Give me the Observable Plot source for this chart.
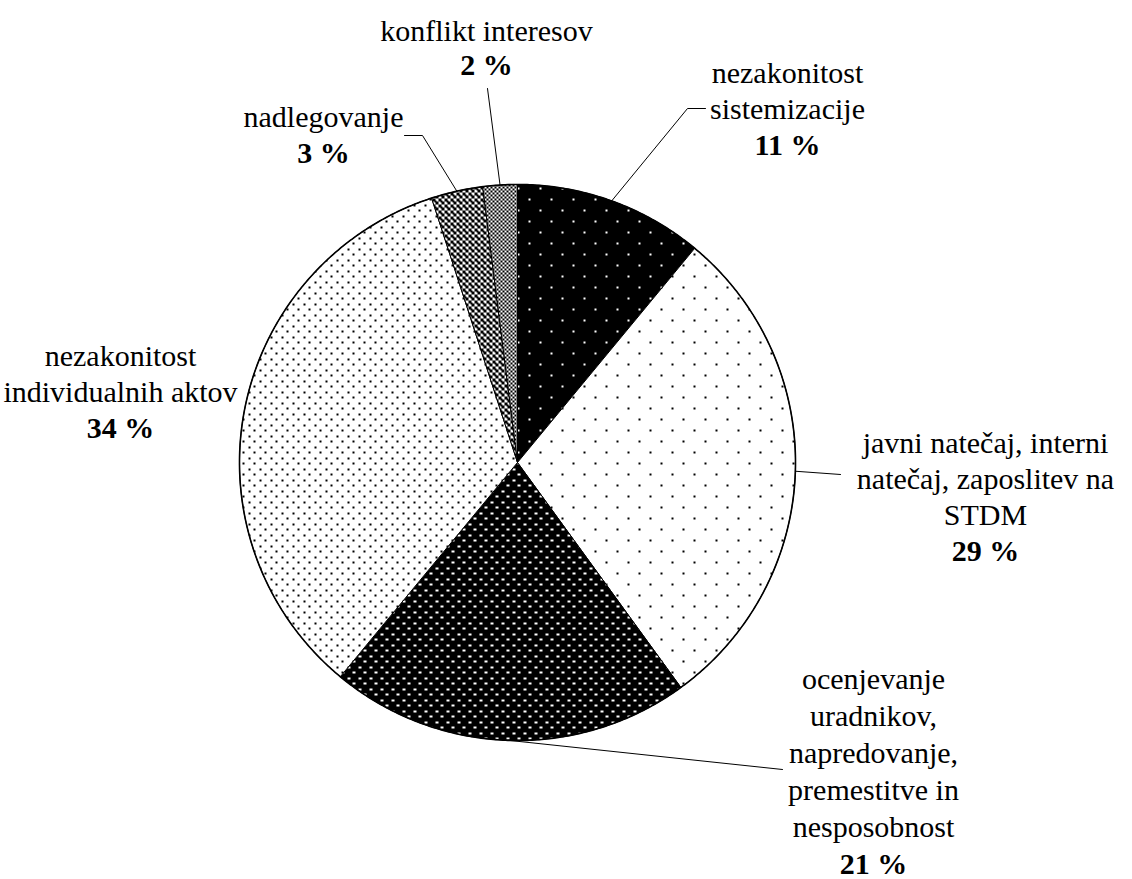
<!DOCTYPE html>
<html>
<head>
<meta charset="utf-8">
<script src="https://cdn.jsdelivr.net/npm/d3@7"></script>
<script src="https://cdn.jsdelivr.net/npm/@observablehq/plot@0.6"></script>
<style>
  html, body { margin: 0; padding: 0; background: #fff; }
  #chart svg { display: block; }
</style>
</head>
<body>
<div id="chart"></div>
<script>
// ---------- data ----------
const categories = [
  "nezakonitost sistemizacije",
  "javni natečaj, interni natečaj, zaposlitev na STDM",
  "ocenjevanje uradnikov, napredovanje, premestitve in nesposobnost",
  "nezakonitost individualnih aktov",
  "nadlegovanje",
  "konflikt interesov"
];
const values = [11, 29, 21, 34, 3, 2];
const labelLines = [
  ["nezakonitost", "sistemizacije"],
  ["javni natečaj, interni", "natečaj, zaposlitev na", "STDM"],
  ["ocenjevanje", "uradnikov,", "napredovanje,", "premestitve in", "nesposobnost"],
  ["nezakonitost", "individualnih aktov"],
  ["nadlegovanje"],
  ["konflikt interesov"]
];
const percentLabels = ["11 %", "29 %", "21 %", "34 %", "3 %", "2 %"];

// ---------- layout & style ----------
const W = 1132, H = 879;
const pie = {cx: 517, cy: 462, r: 278};
const patternIds = ["pA", "pB", "pC", "pD", "pE", "pF"];
const labelLayout = [
  {x: 787, y: 82, dy: 36},
  {x: 985, y: 452, dy: 36},
  {x: 873, y: 688, dy: 37},
  {x: 120, y: 365, dy: 36},
  {x: 323, y: 126, dy: 36},
  {x: 486, y: 40, dy: 34}
];
// leader line waypoints after the point on the pie edge (null = no leader)
const leaderLayout = [
  [[687, 108], [705, 108]],
  [[840, 474]],
  [[782, 769]],
  null,
  [[422, 135], [404, 135]],
  [[487, 88]]
];
const FONT = "Liberation Serif, Times New Roman, serif";

// ---------- geometry from values ----------
const total = d3.sum(values);
let acc = 0;
const slices = values.map((v, i) => {
  const a0 = acc / total * 2 * Math.PI;
  acc += v;
  const a1 = acc / total * 2 * Math.PI;
  return {i, a0, a1, mid: (a0 + a1) / 2};
});
const pt = (a, r = pie.r) => ({x: pie.cx + r * Math.sin(a), y: pie.cy - r * Math.cos(a)});
function wedge(s) {
  const n = Math.max(2, Math.ceil((s.a1 - s.a0) / (Math.PI / 360)));
  const pts = [{x: pie.cx, y: pie.cy}];
  for (let k = 0; k <= n; k++) pts.push(pt(s.a0 + (s.a1 - s.a0) * k / n));
  pts.push({x: pie.cx, y: pie.cy});
  return pts;
}
const outline = d3.range(0, 721).map(k => pt(k / 720 * 2 * Math.PI));

const leaders = [];
slices.forEach(s => {
  const L = leaderLayout[s.i];
  if (!L) return;
  const p = pt(s.mid);
  leaders.push({id: s.i, x: p.x, y: p.y});
  L.forEach(([x, y]) => leaders.push({id: s.i, x, y}));
});

const textRows = [];
labelLines.forEach((lines, i) => {
  const L = labelLayout[i];
  lines.forEach((t, k) => textRows.push({text: t, x: L.x, y: L.y + k * L.dy, bold: false}));
  textRows.push({text: percentLabels[i], x: L.x, y: L.y + lines.length * L.dy, bold: true});
});

// ---------- patterns ----------
function defsMark() {
  const defs = d3.create("svg:defs");
  const mk = (id, w, h, bg, fg, rects) => {
    const p = defs.append("pattern").attr("id", id).attr("patternUnits", "userSpaceOnUse")
      .attr("width", w).attr("height", h);
    p.append("rect").attr("width", w).attr("height", h).attr("fill", bg);
    rects.forEach(([x, y, rw, rh]) => p.append("rect").attr("x", x).attr("y", y)
      .attr("width", rw).attr("height", rh).attr("fill", fg).attr("shape-rendering", "crispEdges"));
  };
  mk("pA", 22, 22, "#000", "#fff", [[0, 0, 2, 2], [11, 11, 2, 2]]);
  mk("pB", 22, 22, "#fff", "#000", [[0, 0, 2, 2], [11, 11, 2, 2]]);
  mk("pC", 11, 11, "#000", "#fff", [[0, 0, 3, 2], [5.5, 5.5, 3, 2]]);
  mk("pD", 11, 11, "#fff", "#000", [[0, 0, 2, 2], [5.5, 5.5, 2, 2]]);
  mk("pE", 6, 6, "#fff", "#000", [[0, 0, 3, 3], [3, 3, 3, 3], [2, 2, 2, 2], [5, 5, 2, 2]]);
  mk("pF", 4, 4, "#fff", "#000", [[0, 0, 2, 2], [2, 2, 2, 2]]);
  return defs.node();
}

const chart = Plot.plot({
  width: W,
  height: H,
  margin: 0,
  x: {domain: [0, W], range: [0, W], axis: null},
  y: {domain: [0, H], range: [0, H], axis: null},
  style: {background: "#fff", overflow: "visible", fontFamily: FONT},
  marks: [
    defsMark,
    ...slices.map(s => Plot.line(wedge(s), {
      x: "x", y: "y", fill: `url(#${patternIds[s.i]})`, stroke: "#000", strokeWidth: 1, strokeLinejoin: "miter"
    })),
    Plot.line(outline, {x: "x", y: "y", stroke: "#000", strokeWidth: 1.6}),
    Plot.line(leaders, {x: "x", y: "y", z: "id", stroke: "#000", strokeWidth: 1}),
    Plot.text(textRows.filter(d => !d.bold), {
      x: "x", y: "y", text: "text", lineAnchor: "bottom", textAnchor: "middle",
      fontFamily: FONT, fontSize: 30, fill: "#000"
    }),
    Plot.text(textRows.filter(d => d.bold), {
      x: "x", y: "y", text: "text", lineAnchor: "bottom", textAnchor: "middle",
      fontFamily: FONT, fontSize: 30, fontWeight: "bold", fill: "#000"
    })
  ]
});
document.getElementById("chart").append(chart);
</script>
</body>
</html>
